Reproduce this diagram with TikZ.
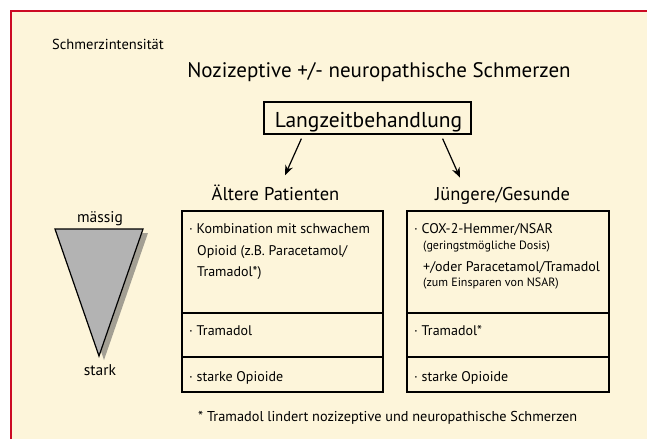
\documentclass[tikz,border=0pt]{standalone}
\usepackage{fontspec}
\setmainfont{PT Sans}
\usetikzlibrary{arrows.meta}
\definecolor{cream}{HTML}{FDF5DA}
\definecolor{framered}{HTML}{CC0A24}
\definecolor{trigray}{HTML}{B3B3B3}
\definecolor{shadowgray}{HTML}{A39F93}
\begin{document}
\begin{tikzpicture}[x=1pt,y=-1pt,
  body/.style={inner sep=0pt, anchor=base west, font=\fontsize{14}{16}\selectfont},
  small/.style={inner sep=0pt, anchor=base west, font=\fontsize{12}{14}\selectfont},
  head/.style={inner sep=0pt, anchor=base, font=\fontsize{18.5}{22}\selectfont},
  scalelabel/.style={inner sep=0pt, anchor=base, font=\fontsize{15.5}{18}\selectfont},
  cell/.style={draw=black, line width=1.2pt, inner sep=0pt},
  arr/.style={line width=1.2pt, -{Stealth[length=10pt,width=8pt]}}]
\useasboundingbox (0,0) rectangle (647,439);
\fill[cream] (11,11) rectangle (647,439);
\draw[framered, line width=1.5pt] (11,439) -- (11,11) -- (647,11);

% headings
\node[inner sep=0pt, anchor=base west, font=\fontsize{14.5}{16}\selectfont] (si) at (52,49) {Schmerzintensität};
\node[inner sep=0pt, anchor=base, font=\fontsize{21}{24}\selectfont] (title) at (379,77) {Nozizeptive +/- neuropathische Schmerzen};
\node[cell, minimum width=207pt, minimum height=32pt] (lz) at (367.5,118) {};
\node[inner sep=0pt, anchor=base, font=\fontsize{21.5}{24}\selectfont] (lzt) at (368.5,127) {Langzeitbehandlung};
\node[head] (alt) at (275.5,200) {Ältere Patienten};
\node[head] (jun) at (502.5,200) {Jüngere/Gesunde};

% arrows
\draw[arr] ([xshift=38pt,yshift=-4pt]lz.south west) -- ([xshift=9.5pt,yshift=9pt]alt.north);
\draw[arr] ([xshift=-29pt,yshift=-4pt]lz.south east) -- ([xshift=-42.5pt,yshift=9pt]jun.north);

% triangle
\fill[shadowgray] (60,233) -- (148,233) -- (104,360) -- cycle;
\draw[fill=trigray, line width=1.2pt] (55,229) -- (143,229) -- (99,356) -- cycle;
\node[scalelabel] (mae) at (100,222) {mässig};
\node[scalelabel] (stk) at (100,375) {stark};

% left column cells
\node[cell, minimum width=201pt, minimum height=102pt] (l1) at (282.5,262) {};
\node[cell, minimum width=201pt, minimum height=44pt] (l2) at (282.5,335) {};
\node[cell, minimum width=201pt, minimum height=35pt] (l3) at (282.5,374.5) {};
% right column cells
\node[cell, minimum width=202pt, minimum height=102pt] (r1) at (508,262) {};
\node[cell, minimum width=202pt, minimum height=44pt] (r2) at (508,335) {};
\node[cell, minimum width=202pt, minimum height=35pt] (r3) at (508,374.5) {};

% left texts
\node[body] (l1a) at (189,233) {·~Kombination mit schwachem};
\node[body] (l1b) at (197,255) {Opioid (z.B. Paracetamol/};
\node[body] (l1c) at (197,276) {Tramadol*)};
\node[body] (l2a) at (189,335) {·~Tramadol};
\node[body] (l3a) at (189,381) {·~starke Opioide};

% right texts
\node[body] (r1a) at (414,233) {·~COX-2-Hemmer/NSAR};
\node[small] (r1b) at (423,249) {(geringstmögliche Dosis)};
\node[body] (r1c) at (423,271) {+/oder Paracetamol/Tramadol};
\node[small] (r1d) at (423,286) {(zum Einsparen von NSAR)};
\node[body] (r2a) at (414,335) {·~Tramadol*};
\node[body] (r3a) at (414,381) {·~starke Opioide};

% footnote
\node[inner sep=0pt, anchor=base west, font=\fontsize{14.3}{16}\selectfont] (fn) at (198,421) {* Tramadol lindert nozizeptive und neuropathische Schmerzen};
\end{tikzpicture}
\end{document}
